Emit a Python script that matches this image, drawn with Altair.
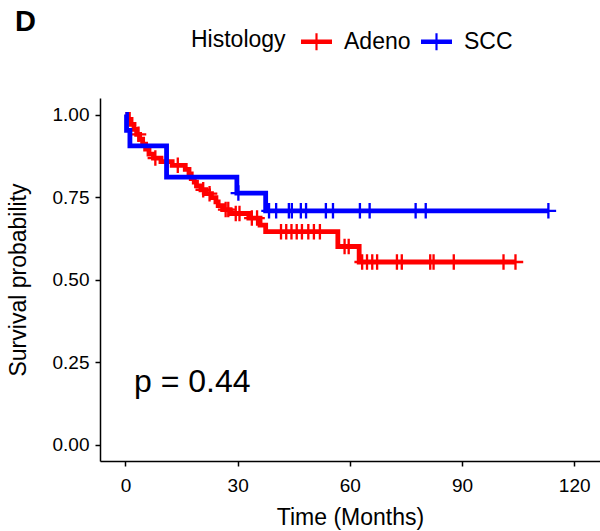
import altair as alt
import pandas as pd

# ---------------- data ----------------
groups = ["Adeno", "SCC"]
group_colors = ["#FF0000", "#0000FF"]

adeno_event_times = [0.8, 1.5, 2.3, 3.0, 3.8, 4.6, 5.4, 6.3, 7.5, 9.5, 12.5, 16.0,
                     17.0, 17.6, 18.4, 19.0, 20.2, 21.5, 23.0, 24.2, 24.8, 26.0,
                     28.0, 33.0, 36.0, 37.5, 56.8, 62.5]
adeno_surv = [0.985, 0.97, 0.955, 0.94, 0.925, 0.91, 0.895, 0.88, 0.868, 0.857,
              0.846, 0.834, 0.82, 0.806, 0.795, 0.784, 0.772, 0.76, 0.748, 0.735,
              0.724, 0.712, 0.70, 0.686, 0.665, 0.645, 0.60, 0.553]
adeno_censor_times = [3.5, 8.0, 14.0, 20.8, 22.5, 26.8, 27.5, 29.5, 30.5, 33.8,
                      35.2, 41.6, 43.0, 44.4, 45.8, 47.2, 48.9, 50.4, 52.0, 58.6,
                      59.7, 63.3, 64.6, 66.0, 67.3, 72.6, 73.9, 81.5, 82.4, 87.8,
                      101.1, 104.3]
adeno_end = 104.3

scc_event_times = [0.3, 1.2, 11.0, 29.8, 37.5]
scc_surv = [0.952, 0.905, 0.81, 0.762, 0.708]
scc_censor_times = [30.2, 38.4, 40.3, 43.7, 44.5, 46.9, 48.3, 53.6, 55.5, 62.7,
                    65.3, 77.6, 80.3, 113.1]
scc_end = 113.1

x_ticks = [0, 30, 60, 90, 120]
y_ticks = [0, 0.25, 0.5, 0.75, 1.0]
p_label = "p = 0.44"
p_pos = (2.3, 0.19)

# ---------------- tables ----------------
def step_value(times, surv, t):
    s = 1.0
    for et, es in zip(times, surv):
        if et <= t:
            s = es
    return s

line_rows, censor_rows = [], []
for g, et, es, ct, end in [
    ("Adeno", adeno_event_times, adeno_surv, adeno_censor_times, adeno_end),
    ("SCC", scc_event_times, scc_surv, scc_censor_times, scc_end),
]:
    line_rows.append({"group": g, "time": 0.0, "surv": 1.0})
    for t, s in zip(et, es):
        line_rows.append({"group": g, "time": t, "surv": s})
    line_rows.append({"group": g, "time": end, "surv": es[-1]})
    for t in ct:
        censor_rows.append({"group": g, "time": t, "surv": step_value(et, es, t)})

line_df = pd.DataFrame(line_rows)
censor_df = pd.DataFrame(censor_rows)
text_df = pd.DataFrame([{"time": p_pos[0], "surv": p_pos[1], "label": p_label}])

FONT = "Liberation Sans"
color_scale = alt.Scale(domain=groups, range=group_colors)
x_enc = alt.X("time:Q",
              scale=alt.Scale(domain=[-6.8, 126.9], nice=False, zero=False),
              axis=alt.Axis(values=x_ticks, title="Time (Months)", format="d"))
y_enc = alt.Y("surv:Q",
              scale=alt.Scale(domain=[-0.05, 1.05], nice=False, zero=False),
              axis=alt.Axis(values=y_ticks, title="Survival probability", format=".2f"))

censor_shape = "M-1,-0.15H1V0.15H-1Z M-0.15,-1H0.15V1H-0.15Z"
legend_shape = "M-1,-0.14H1V0.14H-1Z M-0.07,-0.55H0.07V0.55H-0.07Z"

legend = alt.Legend(
    title="Histology", orient="none", legendX=91, legendY=-72,
    direction="horizontal", titleOrient="left",
    titleFontSize=23, labelFontSize=23, titleFont=FONT, labelFont=FONT,
    titleFontWeight="normal", titleColor="black", labelColor="black",
    symbolType=legend_shape, symbolSize=961, symbolStrokeWidth=0,
    titlePadding=15, labelOffset=12, columnPadding=10, padding=0,
)

lines = alt.Chart(line_df).mark_line(interpolate="step-after", strokeWidth=4.8).encode(
    x=x_enc, y=y_enc,
    color=alt.Color("group:N", scale=color_scale, legend=legend),
)

censors = alt.Chart(censor_df).mark_point(
    shape=censor_shape, filled=True, size=240, opacity=1, strokeWidth=0
).encode(
    x=x_enc, y=y_enc,
    color=alt.Color("group:N", scale=color_scale, legend=legend),
)

ptext = alt.Chart(text_df).mark_text(
    align="left", baseline="middle", fontSize=32, font=FONT, color="black"
).encode(x=x_enc, y=y_enc, text="label:N")

chart = alt.layer(censors, lines, ptext).properties(
    width=500, height=363,
    autosize=alt.AutoSizeParams(type="none"),
    padding={"left": 100, "top": 98, "right": 0, "bottom": 70},
    title=alt.TitleParams(text="D", anchor="start", orient="top", frame="group",
                          dx=-85, offset=0, dy=11, fontSize=29, fontWeight="bold",
                          font=FONT, color="black"),
).configure_view(stroke=None).configure_axis(
    grid=False, domainColor="black", domainWidth=1.5, tickColor="black",
    tickWidth=1.5, tickSize=5, labelColor="black", titleColor="black",
    labelFont=FONT, titleFont=FONT, labelFontSize=19, titleFontSize=23,
    titleFontWeight="normal",
).configure_axisX(labelPadding=10, titlePadding=11).configure_axisY(
    labelPadding=6, titlePadding=22).configure_legend(
    symbolFillColor="transparent")

chart.save("out.html", embed_options={"renderer": "svg", "actions": False})
